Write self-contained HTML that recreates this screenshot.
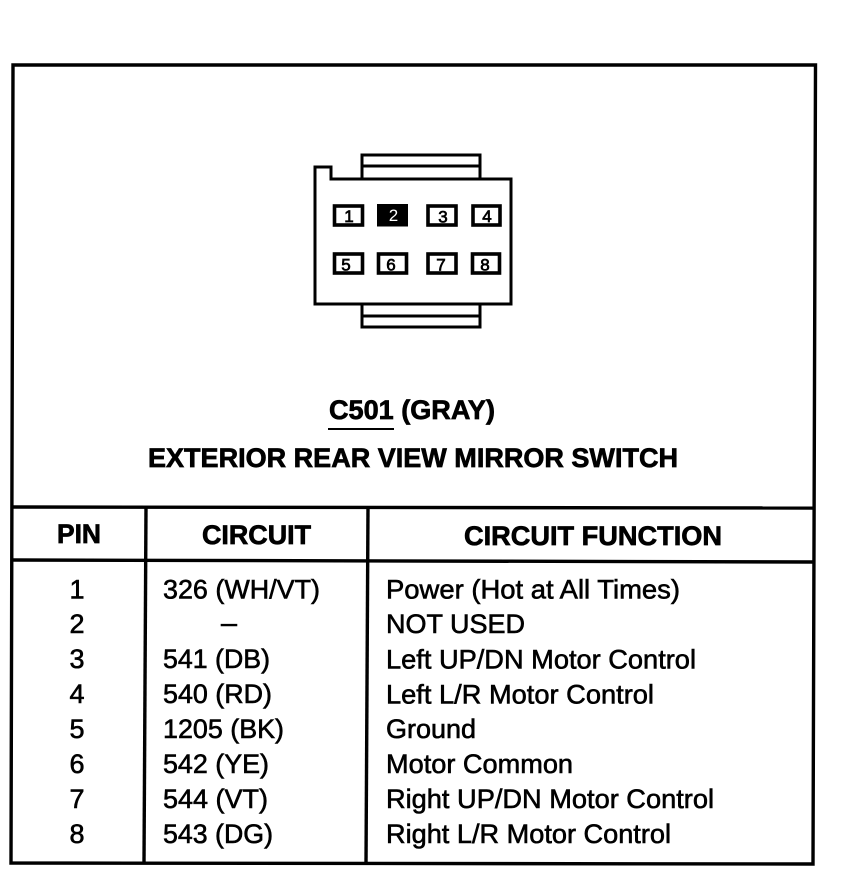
<!DOCTYPE html>
<html>
<head>
<meta charset="utf-8">
<style>
html,body{margin:0;padding:0;background:#fff;width:854px;height:880px;overflow:hidden}
svg{display:block}
text{font-family:"Liberation Sans",Arial,sans-serif;fill:#000;stroke:#000}
.h{font-weight:bold;font-size:27px;stroke-width:.7px}
.d{font-size:27px;stroke-width:.6px}
.p{font-size:17px;stroke-width:.7px}
</style>
</head>
<body>
<svg width="854" height="880" viewBox="0 0 854 880" xmlns="http://www.w3.org/2000/svg">
<rect width="854" height="880" fill="#fff"/>
<g fill="none" stroke="#000" stroke-width="3.4">
<polygon points="13,65 815.5,65 813,864 11,863"/>
<line x1="12" y1="507" x2="815" y2="508"/>
<line x1="12" y1="560" x2="814" y2="562"/>
<line x1="146" y1="507" x2="144" y2="863"/>
<line x1="368" y1="507" x2="366" y2="864"/>
</g>
<g fill="none" stroke="#000" stroke-width="3">
<polygon points="315,167 331,167 331,179 511,179 511,304 315,304"/>
<polyline points="362,178 362,155 480,155 480,178"/>
<line x1="362" y1="166" x2="480" y2="166"/>
<polyline points="362,304 362,327 480,327 480,304"/>
<line x1="362" y1="316" x2="480" y2="316"/>
</g>
<g fill="none" stroke="#000" stroke-width="3.6">
<rect x="334.500" y="206" width="28" height="19"/>
<rect x="428" y="206" width="28" height="19"/>
<rect x="473" y="206" width="27" height="19"/>
<rect x="334.500" y="254" width="28" height="19"/>
<rect x="378.500" y="254" width="28" height="19"/>
<rect x="428" y="254" width="28" height="19"/>
<rect x="472.500" y="254" width="27" height="19"/>
</g>
<rect x="377" y="204" width="31" height="22.500" fill="#000"/>
<g class="pins" text-anchor="middle">
<text class="p" x="349" y="222">1</text>
<text class="p" x="393.500" y="221" style="fill:#fff;stroke:#fff;stroke-width:0">2</text>
<text class="p" x="443" y="222.500">3</text>
<text class="p" x="487" y="222">4</text>
<text class="p" x="346" y="270.500">5</text>
<text class="p" x="391" y="270.500">6</text>
<text class="p" x="441" y="270.500">7</text>
<text class="p" x="485" y="270.500">8</text>
</g>
<text class="h" x="329" y="419" textLength="166" lengthAdjust="spacingAndGlyphs">C501 (GRAY)</text>
<line x1="328" y1="429" x2="394" y2="429" stroke="#000" stroke-width="2"/>
<text class="h" x="148" y="467" textLength="530" lengthAdjust="spacingAndGlyphs">EXTERIOR REAR VIEW MIRROR SWITCH</text>
<text class="h" x="57" y="543" textLength="44" lengthAdjust="spacingAndGlyphs">PIN</text>
<text class="h" x="202" y="544" textLength="109" lengthAdjust="spacingAndGlyphs">CIRCUIT</text>
<text class="h" x="464" y="545" textLength="258" lengthAdjust="spacingAndGlyphs">CIRCUIT FUNCTION</text>
<g class="col1" text-anchor="middle">
<text class="d" x="77" y="598.500">1</text>
<text class="d" x="77" y="633">2</text>
<text class="d" x="77" y="668">3</text>
<text class="d" x="77" y="703">4</text>
<text class="d" x="77" y="738">5</text>
<text class="d" x="77" y="773">6</text>
<text class="d" x="77" y="808">7</text>
<text class="d" x="77" y="843">8</text>
</g>
<text class="d" x="163" y="598.500" textLength="157" lengthAdjust="spacingAndGlyphs">326 (WH/VT)</text>
<text class="d" x="221" y="632" textLength="16" lengthAdjust="spacingAndGlyphs">–</text>
<text class="d" x="163" y="668" textLength="107" lengthAdjust="spacingAndGlyphs">541 (DB)</text>
<text class="d" x="163" y="703" textLength="109" lengthAdjust="spacingAndGlyphs">540 (RD)</text>
<text class="d" x="163" y="738" textLength="121" lengthAdjust="spacingAndGlyphs">1205 (BK)</text>
<text class="d" x="163" y="773" textLength="106" lengthAdjust="spacingAndGlyphs">542 (YE)</text>
<text class="d" x="163" y="808" textLength="105" lengthAdjust="spacingAndGlyphs">544 (VT)</text>
<text class="d" x="163" y="843" textLength="110" lengthAdjust="spacingAndGlyphs">543 (DG)</text>
<text class="d" x="386" y="598.500" textLength="294" lengthAdjust="spacingAndGlyphs">Power (Hot at All Times)</text>
<text class="d" x="386" y="633" textLength="139" lengthAdjust="spacingAndGlyphs">NOT USED</text>
<text class="d" x="386" y="668.500" textLength="310" lengthAdjust="spacingAndGlyphs">Left UP/DN Motor Control</text>
<text class="d" x="386" y="703.500" textLength="268" lengthAdjust="spacingAndGlyphs">Left L/R Motor Control</text>
<text class="d" x="386" y="738" textLength="90" lengthAdjust="spacingAndGlyphs">Ground</text>
<text class="d" x="386" y="773" textLength="187" lengthAdjust="spacingAndGlyphs">Motor Common</text>
<text class="d" x="386" y="808" textLength="328" lengthAdjust="spacingAndGlyphs">Right UP/DN Motor Control</text>
<text class="d" x="386" y="843" textLength="285" lengthAdjust="spacingAndGlyphs">Right L/R Motor Control</text>
</svg>
</body>
</html>
